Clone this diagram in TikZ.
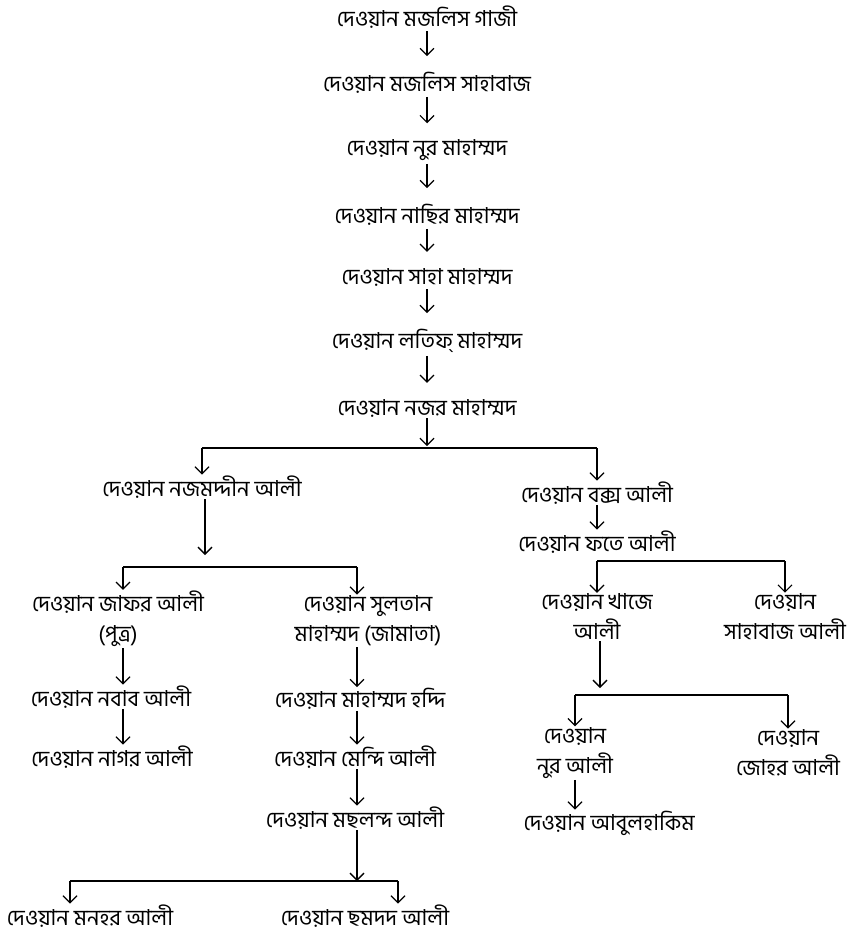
\documentclass[tikz,border=0pt]{standalone}
\usepackage{fontspec}
\newfontfamily\bn[Script=Bengali]{Hind Siliguri}
\usepackage{tikz}
\tikzstyle{person} = [inner sep=1pt, align=center,
    font=\bn\fontsize{22}{30}\selectfont]
\tikzstyle{arr} = [line width=1.2pt, -{Straight Barb[length=7pt,width=14pt]}]
\tikzstyle{chain} = [arr, shorten <=2pt, shorten >=15pt]
\tikzstyle{longarr} = [line width=2pt, -{Straight Barb[length=7pt,width=14pt,line width=1.3pt]}]
\tikzstyle{bar} = [line width=2pt]
\usetikzlibrary{arrows.meta}
\usetikzlibrary{positioning}

\begin{document}
\begin{tikzpicture}[x=1pt,y=-1pt]
    \useasboundingbox (0,0) rectangle (859,940);

    % main line
    \node[person] (gazi) at (427,17) {দেওয়ান মজলিস গাজী};
    \node[person] (majlis) at (427,83) {দেওয়ান মজলিস সাহাবাজ};
    \node[person] (nur) at (427,150) {দেওয়ান নুর মাহাম্মদ};
    \node[person] (nasir) at (427,215) {দেওয়ান নাছির মাহাম্মদ};
    \node[person] (saha) at (427,277) {দেওয়ান সাহা মাহাম্মদ};
    \node[person] (latif) at (427,341) {দেওয়ান লতিফ্ মাহাম্মদ};
    \node[person] (najar) at (427,408) {দেওয়ান নজর মাহাম্মদ};

    \draw[chain] (gazi) -- (majlis);
    \draw[chain] (majlis) -- (nur);
    \draw[chain] (nur) -- (nasir);
    \draw[chain] (nasir) -- (saha);
    \draw[chain] (saha) -- (latif);
    \draw[chain] (latif) -- (najar);

    % first split
    \coordinate (split1) at (427,446);
    \coordinate (split1l) at (202,448);
    \coordinate (split1r) at (597,448);
    \node[person] (najm) at (202,487) {দেওয়ান নজমদ্দীন আলী};
    \node[person] (baks) at (597,493) {দেওয়ান বক্স আলী};
    \node[person] (fate) at (597,542) {দেওয়ান ফতে আলী};

    \draw[arr] (najar) -- (split1);
    \draw[bar] (split1l) -- (split1r);
    \draw[arr] (split1l) -- (najm);
    \draw[arr] (split1r) -- (baks);
    \draw[arr] (baks) -- (fate);

    % left branch
    \coordinate (split2) at (205,555);
    \coordinate (split2l) at (123,567);
    \coordinate (split2r) at (357,567);
    \node[person] (jafar) at (118,619) {দেওয়ান জাফর আলী\\(পুত্র)};
    \node[person] (sultan) at (368,621) {দেওয়ান সুলতান\\মাহাম্মদ (জামাতা)};
    \node[person] (nabab) at (111,697) {দেওয়ান নবাব আলী};
    \node[person] (nagar) at (112,757) {দেওয়ান নাগর আলী};
    \node[person] (haddi) at (360,699) {দেওয়ান মাহাম্মদ হদ্দি};
    \node[person] (mendi) at (355,757) {দেওয়ান মেন্দি আলী};
    \node[person] (machland) at (355,818) {দেওয়ান মছলন্দ আলী};

    \draw[longarr] (najm.south -| split2) -- (split2);
    \draw[bar] (split2l) -- (split2r);
    \draw[arr] (split2l) -- (split2l |- jafar.north);
    \draw[arr] (split2r) -- (split2r |- sultan.north);
    \draw[arr] (jafar.south -| split2l) -- (split2l |- nabab.north);
    \draw[arr] (nabab.south -| split2l) -- (split2l |- nagar.north);
    \draw[arr] (sultan.south -| split2r) -- (split2r |- haddi.north);
    \draw[arr] (haddi.south -| split2r) -- (split2r |- mendi.north);
    \draw[arr] (mendi.south -| split2r) -- (split2r |- machland.north);

    % bottom split
    \coordinate (split3) at (357,881);
    \coordinate (split3l) at (70,881);
    \coordinate (split3r) at (398,881);
    \node[person] (monohar) at (90,916) {দেওয়ান মনহর আলী};
    \node[person] (chhamdad) at (365,916) {দেওয়ান ছমদদ আলী};

    \draw[longarr] (machland.south -| split3) -- (split3);
    \draw[bar] (split3l) -- (split3r);
    \draw[arr] (split3l) -- (split3l |- monohar.north);
    \draw[arr] (split3r) -- (split3r |- chhamdad.north);

    % right branch
    \coordinate (split4l) at (597,561);
    \coordinate (split4r) at (785,561);
    \node[person] (khaje) at (597,617) {দেওয়ান খাজে\\আলী};
    \node[person] (sahabaj) at (785,617) {দেওয়ান\\সাহাবাজ আলী};

    \draw[bar] (split4l) -- (split4r);
    \draw[arr] (split4l) -- (khaje);
    \draw[arr] (split4r) -- (sahabaj);

    \coordinate (split5) at (600,688);
    \coordinate (split5l) at (575,695);
    \coordinate (split5r) at (788,695);
    \node[person] (nurali) at (575,753) {দেওয়ান\\নুর আলী};
    \node[person] (johor) at (788,753) {দেওয়ান\\জোহর আলী};
    \node[person] (abul) at (609,823) {দেওয়ান আবুলহাকিম};

    \draw[longarr] (khaje.south -| split5) -- (split5);
    \draw[bar] (split5l) -- (split5r);
    \draw[arr] (split5l) -- (nurali);
    \draw[arr] (split5r) -- (johor);
    \draw[arr] (nurali.south) -- (nurali.south |- abul.north);
\end{tikzpicture}
\end{document}
